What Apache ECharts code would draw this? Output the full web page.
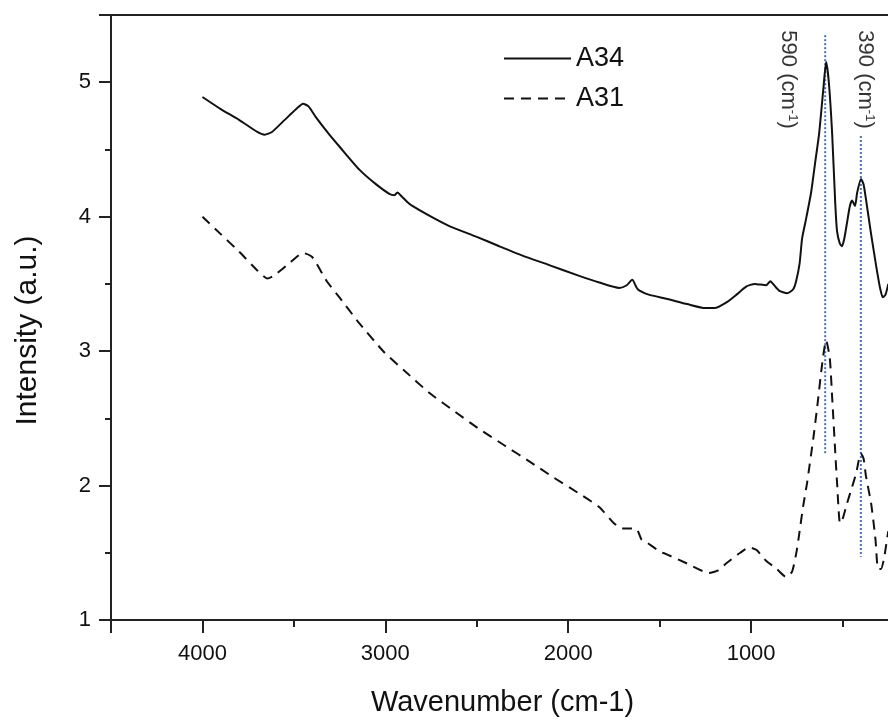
<!DOCTYPE html>
<html>
<head>
<meta charset="utf-8">
<script src="https://cdn.jsdelivr.net/npm/echarts@6/dist/echarts.min.js"></script>
<style>
html,body{margin:0;padding:0;background:#fff;overflow:hidden;width:888px;height:722px;}
#chart{width:937px;height:722px;}
</style>
</head>
<body>
<div id="chart"></div>
<script>
// ---- data ----
const seriesNames = ['A34', 'A31'];

const wavenumberA34 = [4000,3900,3800,3700,3660,3620,3550,3480,3450,3420,3380,3306,3250,3142,3050,2978,2950,2934,2910,2880,2852,2750,2650,2500,2377,2250,2104,1940,1830,1721,1680,1650,1620,1560,1464,1350,1250,1200,1137,1080,1027,980,918,895,880,847,803,770,754,735,721,700,672,650,628,605,590,575,557,540,530,515,503,490,475,460,448,432,420,399,385,372,345,317,295,280,265,250];
const intensityA34  = [4.89,4.80,4.72,4.63,4.61,4.63,4.72,4.81,4.84,4.82,4.74,4.61,4.52,4.35,4.24,4.17,4.16,4.18,4.15,4.11,4.08,4.00,3.93,3.85,3.78,3.71,3.64,3.56,3.51,3.47,3.49,3.53,3.46,3.42,3.39,3.35,3.32,3.32,3.36,3.42,3.48,3.50,3.49,3.52,3.50,3.45,3.43,3.46,3.52,3.65,3.84,3.98,4.18,4.40,4.62,4.95,5.15,5.00,4.62,4.10,3.89,3.80,3.78,3.84,3.96,4.08,4.12,4.08,4.18,4.28,4.24,4.13,3.88,3.64,3.47,3.40,3.42,3.50];

const wavenumberA31 = [4000,3900,3800,3700,3645,3600,3520,3450,3400,3320,3251,3150,3005,2900,2760,2620,2486,2350,2213,2080,1940,1831,1750,1705,1660,1628,1600,1574,1500,1464,1350,1230,1180,1137,1060,1010,970,918,860,809,776,750,738,715,694,660,639,612,590,570,557,540,530,514,500,475,450,426,400,385,372,344,320,306,290,273,257,250];
const intensityA31  = [4.00,3.87,3.74,3.60,3.54,3.57,3.66,3.73,3.70,3.52,3.40,3.22,2.99,2.86,2.69,2.55,2.42,2.30,2.18,2.06,1.94,1.84,1.72,1.68,1.68,1.68,1.60,1.58,1.51,1.49,1.42,1.35,1.37,1.42,1.50,1.54,1.52,1.44,1.38,1.32,1.36,1.52,1.63,1.85,2.02,2.35,2.58,2.90,3.08,2.95,2.66,2.25,2.02,1.72,1.75,1.87,1.98,2.09,2.24,2.20,2.07,1.87,1.60,1.38,1.38,1.46,1.60,1.66];

// peak markers (dotted blue lines) and their labels
const peakLabels      = ['590', '390'];
const peakLineX       = [595, 400];
const peakLineYTop    = [5.35, 4.60];
const peakLineYBottom = [2.23, 1.47];
const peakTextX       = [800, 375];
const peakTextY       = [5.02, 5.02];

const xTicks = [4000, 3000, 2000, 1000];
const yTicks = [1, 2, 3, 4, 5];

// ---- chart ----
const chart = echarts.init(document.getElementById('chart'));
const FONT = "'Liberation Sans', Arial, sans-serif";
const AX = '#222';

const zip = (xs, ys) => xs.map((x, i) => [x, ys[i]]);

const series = [
  {
    name: seriesNames[0], type: 'line', data: zip(wavenumberA34, intensityA34),
    symbol: 'none', smooth: 0.2, lineStyle: {color: '#111', width: 2}, itemStyle: {color: '#111'}, z: 3
  },
  {
    name: seriesNames[1], type: 'line', data: zip(wavenumberA31, intensityA31),
    symbol: 'none', smooth: 0.2, lineStyle: {color: '#111', width: 2, type: [10, 7]}, itemStyle: {color: '#111'}, z: 3
  }
];
peakLineX.forEach((x, i) => {
  series.push({
    type: 'line', data: [[x, peakLineYTop[i]], [x, peakLineYBottom[i]]],
    symbol: 'none', silent: true, lineStyle: {color: '#4472C4', width: 2, type: [2, 2]}, z: 2
  });
});
series.push({
  type: 'scatter', symbol: 'circle', symbolSize: 1, silent: true,
  itemStyle: {color: 'rgba(0,0,0,0)'},
  data: peakTextX.map((x, i) => ({value: [x, peakTextY[i]], name: peakLabels[i]})),
  label: {
    show: true, position: 'inside', rotate: -90,
    formatter: p => '{a|' + p.name + ' (cm}{s|-1}{a|)}',
    rich: {
      a: {fontFamily: FONT, fontSize: 22, color: '#000'},
      s: {fontFamily: FONT, fontSize: 13, color: '#000', verticalAlign: 'top', padding: [0, 0, 9, 0]}
    }
  },
  z: 4
});

const legendCommon = {
  left: 503, itemWidth: 67, itemHeight: 28, padding: 0,
  itemStyle: {opacity: 0, borderWidth: 0},
  textStyle: {fontFamily: FONT, fontSize: 27, color: '#111'}, selectedMode: false
};

chart.setOption({
  animation: false,
  backgroundColor: '#fff',
  grid: {left: 111, top: 15, right: 0, bottom: 97, show: true, borderColor: AX, borderWidth: 2, containLabel: false},
  legend: [
    Object.assign({data: [seriesNames[0]], top: 45}, legendCommon),
    Object.assign({data: [seriesNames[1]], top: 85}, legendCommon)
  ],
  xAxis: {
    type: 'value', inverse: true, min: 0, max: 4500, interval: 1000,
    name: 'Wavenumber (cm-1)', nameLocation: 'middle', nameGap: 68,
    nameTextStyle: {fontFamily: FONT, fontSize: 29, color: '#111', padding: [0, 40, 0, 0]},
    axisLine: {show: true, onZero: false, lineStyle: {color: AX, width: 2}},
    axisTick: {show: true, length: 13, lineStyle: {color: AX, width: 2}},
    minorTick: {show: true, splitNumber: 2, length: 7, lineStyle: {color: AX, width: 2}},
    splitLine: {show: false},
    axisLabel: {
      fontFamily: FONT, fontSize: 22, color: '#111', margin: 23, showMaxLabel: false,
      formatter: v => (xTicks.indexOf(v) >= 0 ? String(v) : '')
    }
  },
  yAxis: {
    type: 'value', min: 1, max: 5.5, interval: 1,
    name: 'Intensity (a.u.)', nameLocation: 'middle', nameGap: 68,
    nameTextStyle: {fontFamily: FONT, fontSize: 30, color: '#111', padding: [0, 26, 0, 0]},
    axisLine: {show: true, onZero: false, lineStyle: {color: AX, width: 2}},
    axisTick: {show: true, length: 12, lineStyle: {color: AX, width: 2}},
    minorTick: {show: true, splitNumber: 2, length: 6, lineStyle: {color: AX, width: 2}},
    splitLine: {show: false},
    axisLabel: {
      fontFamily: FONT, fontSize: 22, color: '#111', margin: 20, showMaxLabel: false,
      formatter: v => (yTicks.indexOf(v) >= 0 ? String(v) : '')
    }
  },
  series: series
});
</script>
</body>
</html>
